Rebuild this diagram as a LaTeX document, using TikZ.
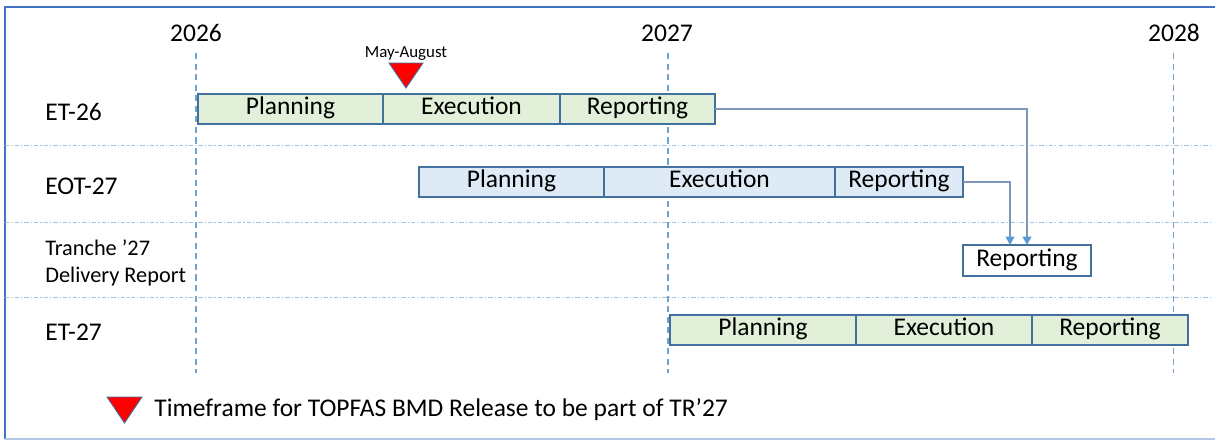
\documentclass[tikz,border=0pt]{standalone}
\usepackage{fontspec}
\setmainfont{Carlito}
\usetikzlibrary{arrows.meta,positioning}
\definecolor{frameblue}{RGB}{68,114,196}
\definecolor{framelight}{RGB}{180,199,231}
\definecolor{boxedge}{RGB}{65,113,156}
\definecolor{phasegreen}{RGB}{226,240,217}
\definecolor{phaseblue}{RGB}{222,235,247}
\definecolor{yearblue}{RGB}{112,163,214}
\definecolor{gridblue}{RGB}{160,195,228}
\definecolor{linkgrey}{RGB}{125,150,185}
\definecolor{tipblue}{RGB}{91,155,213}
\newcommand{\lbl}{\fontsize{14.5}{17}\selectfont}

\begin{document}
\begin{tikzpicture}[
    phase/.style={rectangle, draw=boxedge, line width=0.8pt,
        minimum height=0.6cm, inner sep=0pt, outer sep=0pt,
        text height=0.65em, text depth=0pt, font=\lbl},
    etphase/.style={phase, fill=phasegreen},
    eotphase/.style={phase, fill=phaseblue},
    rowlabel/.style={anchor=base west, inner sep=0pt, font=\lbl},
    yearlabel/.style={anchor=base, inner sep=0pt, font=\lbl},
    yearline/.style={yearblue, line width=0.9pt, dash pattern=on 3.5pt off 2.5pt},
    rowsep/.style={gridblue, line width=0.5pt,
        dash pattern=on 2.5pt off 1.2pt on 0.6pt off 1.2pt},
    link/.style={linkgrey, line width=0.7pt,
        -{Triangle[width=1.8mm,length=1.7mm,color=tipblue]}},
    milestone/.style={fill=red, draw=boxedge, line width=0.5pt}
]
    \useasboundingbox (0,0) rectangle (24.3,-8.82);

    % outer frame
    \draw[frameblue, line width=0.9pt] (24.3,-0.14) -- (0.10,-0.14) -- (0.10,-8.78);
    \draw[framelight, line width=0.9pt] (0.10,-8.78) -- (24.3,-8.78);

    % years
    \node[yearlabel] (y2026) at (3.92,-0.82) {2026};
    \node[yearlabel] (y2027) at (13.34,-0.82) {2027};
    \node[yearlabel] (y2028) at (23.48,-0.82) {2028};
    \draw[yearline] (3.92,-1.06) -- (3.92,-7.46);
    \draw[yearline] (13.36,-1.06) -- (13.36,-7.46);
    \draw[yearline] (23.47,-1.06) -- (23.47,-7.46);

    % row separators
    \draw[rowsep] (0.10,-2.90) -- (24.26,-2.90);
    \draw[rowsep] (0.10,-4.44) -- (24.26,-4.44);
    \draw[rowsep] (0.10,-5.94) -- (24.26,-5.94);

    % row labels
    \node[rowlabel] (lab26) at (0.90,-2.40) {ET-26};
    \node[rowlabel] (labeot) at (0.90,-3.88) {EOT-27};
    \node[anchor=west, inner sep=0pt, align=left, font=\fontsize{12.7}{15.4}\selectfont] (labtr)
        at (0.90,-5.26) {Tranche ’27\\Delivery Report};
    \node[rowlabel] (lab27) at (0.90,-6.80) {ET-27};

    % ET-26
    \node[etphase, minimum width=3.70cm] (et26plan) at (5.81,-2.18) {Planning};
    \node[etphase, minimum width=3.54cm, right=0pt of et26plan] (et26exec) {Execution};
    \node[etphase, minimum width=3.10cm, right=0pt of et26exec] (et26rep) {Reporting};

    % EOT-27
    \node[eotphase, minimum width=3.70cm] (eot27plan) at (10.23,-3.64) {Planning};
    \node[eotphase, minimum width=4.62cm, right=0pt of eot27plan] (eot27exec) {Execution};
    \node[eotphase, minimum width=2.56cm, right=0pt of eot27exec] (eot27rep) {Reporting};

    % delivery report
    \node[phase, fill=white, minimum width=2.56cm, minimum height=0.62cm] (tr27rep)
        at (20.54,-5.21) {Reporting};

    % ET-27
    \node[etphase, minimum width=3.72cm] (et27plan) at (15.26,-6.60) {Planning};
    \node[etphase, minimum width=3.52cm, right=0pt of et27plan] (et27exec) {Execution};
    \node[etphase, minimum width=3.12cm, right=0pt of et27exec] (et27rep) {Reporting};

    % feeds into the delivery report
    \draw[link] (et26rep.east) -| (tr27rep.north);
    \draw[link] (eot27rep.east) -| ([xshift=-0.34cm]tr27rep.north);

    % release window
    \node[anchor=base, inner sep=0pt, font=\fontsize{9.6}{11}\selectfont] (window)
        at (8.12,-1.14) {May-August};
    \filldraw[milestone] (7.78,-1.26) -- (8.46,-1.26) -- (8.12,-1.76) -- cycle;

    % legend
    \filldraw[milestone] (2.14,-7.94) -- (2.84,-7.94) -- (2.49,-8.46) -- cycle;
    \node[anchor=base west, inner sep=0pt, font=\lbl] (legend) at (3.08,-8.32)
        {Timeframe for TOPFAS BMD Release to be part of TR’27};
\end{tikzpicture}
\end{document}
